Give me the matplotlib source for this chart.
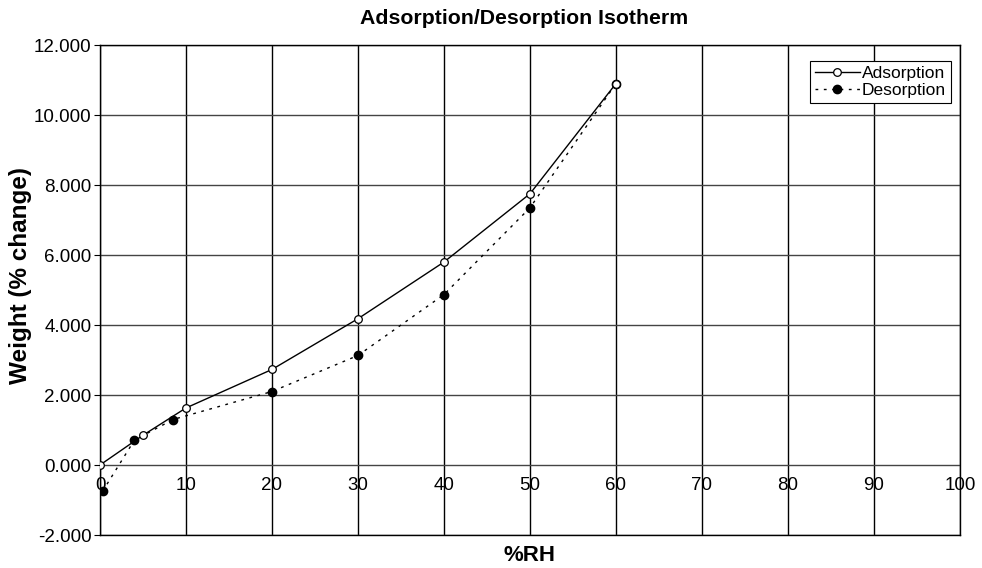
import matplotlib
matplotlib.use("Agg")
import matplotlib.pyplot as plt
from matplotlib.ticker import FormatStrFormatter

# data
rh_ads = [0, 5, 10, 20, 30, 40, 50, 60]
w_ads = [0.0, 0.85, 1.63, 2.73, 4.18, 5.80, 7.75, 10.90]
rh_des = [0.3, 4, 8.5, 20, 30, 40, 50, 60]
w_des = [-0.75, 0.71, 1.30, 2.10, 3.13, 4.87, 7.35, 10.90]

x_ticks = list(range(0, 101, 10))
y_ticks = [-2, 0, 2, 4, 6, 8, 10, 12]

plt.rcParams['font.family'] = ['Liberation Sans', 'DejaVu Sans']

fig = plt.figure(figsize=(9.82, 5.68), dpi=100)
ax = fig.add_axes([100 / 982, 33 / 568, 860 / 982, 490 / 568])

ax.set_xlim(0, 100)
ax.set_ylim(-2, 12)
ax.set_xticks(x_ticks)
ax.set_yticks(y_ticks)
ax.yaxis.set_major_formatter(FormatStrFormatter('%.3f'))
ax.tick_params(axis='y', length=4, width=0.8, labelsize=13.5, pad=2)
ax.tick_params(axis='x', length=0, labelbottom=False)

# grid: black verticals, dark grey horizontals
for x in x_ticks:
    ax.axvline(x, color='black', lw=1.0, zorder=1)
for y in y_ticks:
    ax.axhline(y, color='#444444', lw=1.0, zorder=1)

for s in ax.spines.values():
    s.set_linewidth(1.0)
    s.set_color('black')

# x tick labels sit on the y=0 line
sec = ax.secondary_xaxis(2 / 14)
sec.set_xticks(x_ticks)
sec.tick_params(length=0, labelsize=13.5, pad=9)
sec.spines['bottom'].set_visible(False)

ax.plot(rh_ads, w_ads, color='black', lw=1.0, marker='o', ms=5.5,
        mfc='white', mec='black', mew=0.9, label='Adsorption', zorder=4)
ax.plot(rh_des, w_des, color='black', lw=1.0, ls=(0, (2, 4)), marker='o',
        ms=6, mfc='black', mec='black', label='Desorption', zorder=3)

ax.set_title('Adsorption/Desorption Isotherm', fontsize=15.3, fontweight='bold',
             pad=15, x=0.493)
ax.set_xlabel('%RH', fontsize=16, fontweight='bold', labelpad=7)
ax.set_ylabel('Weight (% change)', fontsize=17.5, fontweight='bold')
ax.yaxis.set_label_coords(-0.079, 0.53)

leg = ax.legend(loc='upper right', bbox_to_anchor=(0.9895, 0.968), fontsize=12.5,
                frameon=True, fancybox=False, edgecolor='black', framealpha=1,
                borderpad=0.3, labelspacing=0.12, handlelength=2.6,
                handletextpad=0.1, borderaxespad=0)
leg.get_frame().set_linewidth(0.8)

fig.savefig('out.png', dpi=100)
